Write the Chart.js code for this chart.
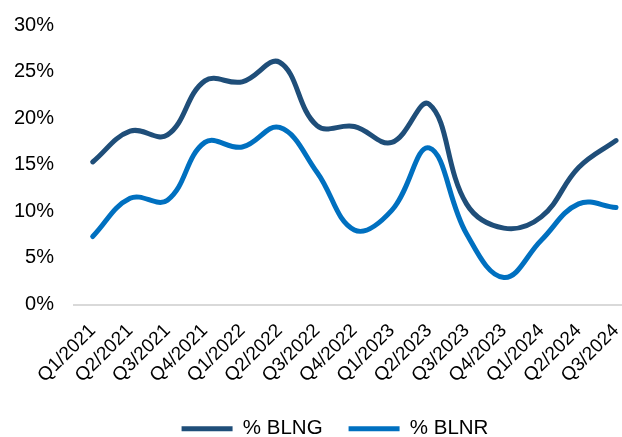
<!DOCTYPE html>
<html>
<head>
<meta charset="utf-8">
<script src="https://cdn.jsdelivr.net/npm/chart.js@4"></script>
<style>
  html, body { margin: 0; padding: 0; background: #fff; }
  #wrap { width: 622px; height: 437px; }
</style>
</head>
<body>
<div id="wrap"><canvas id="myChart"></canvas></div>
<script>
const quarters = ['Q1/2021', 'Q2/2021', 'Q3/2021', 'Q4/2021', 'Q1/2022', 'Q2/2022', 'Q3/2022',
  'Q4/2022', 'Q1/2023', 'Q2/2023', 'Q3/2023', 'Q4/2023', 'Q1/2024', 'Q2/2024', 'Q3/2024'];
const blng = [15.3, 18.6, 18.2, 24.0, 23.9, 26.0, 19.2, 19.1, 17.4, 21.5, 10.8, 8.2, 9.4, 14.7, 17.6];
const blnr = [7.3, 11.4, 11.2, 17.4, 16.9, 19.0, 14.2, 8.0, 10.1, 16.8, 7.6, 2.9, 6.9, 10.8, 10.4];
const yTicks = [0, 5, 10, 15, 20, 25, 30];

const FONT = 'Arial, "Liberation Sans", sans-serif';

// line chart on a linear x scale so the first and last points sit where we want them
const points = vals => vals.map((v, i) => ({ x: i, y: v }));

// legend is centred under the plot rather than the whole canvas
const legendShift = {
    id: 'legendShift',
    afterLayout(chart) {
        chart.legend.left += 48;
    }
};

const ctx = document.getElementById('myChart');
const myChart = new Chart(ctx, {
    type: 'line',
    data: {
        datasets: [
            {
            label: '% BLNG',
            data: points(blng),
            borderColor: '#1F4E79',
            backgroundColor: '#1F4E79',
            borderWidth: 5,
            borderCapStyle: 'round',
            tension: 0.4,
            pointRadius: 0
            },
            {
            label: '% BLNR',
            data: points(blnr),
            borderColor: '#0070C0',
            backgroundColor: '#0070C0',
            borderWidth: 5,
            borderCapStyle: 'round',
            tension: 0.4,
            pointRadius: 0
            }
        ]
    },
    plugins: [legendShift],
    options: {
        responsive: true,
        maintainAspectRatio: false,
        animation: false,
        layout: { padding: { top: 25, right: 0, bottom: -12, left: 0 } },
        plugins: {
            tooltip: { enabled: false },
            legend: {
                position: 'bottom',
                labels: {
                    usePointStyle: true,
                    pointStyle: 'line',
                    pointStyleWidth: 51,
                    padding: 26,
                    color: '#000',
                    font: { family: FONT, size: 20.5 }
                }
            }
        },
        scales: {
            x: {
                type: 'linear',
                min: -0.5,
                max: 14.16,
                afterBuildTicks: axis => { axis.ticks = quarters.map((q, i) => ({ value: i })); },
                afterFit: axis => {
                    axis.height = 88;
                    axis.paddingLeft = 0;
                    axis.paddingRight = 0;
                },
                grid: { display: false },
                border: { display: true, color: '#d9d9d9', width: 2 },
                ticks: {
                    autoSkip: false,
                    maxRotation: 45,
                    minRotation: 45,
                    padding: 7,
                    color: '#000',
                    font: { family: FONT, size: 19 },
                    callback: v => quarters[v]
                }
            },
            y: {
                min: 0,
                max: 30,
                afterBuildTicks: axis => { axis.ticks = yTicks.map(v => ({ value: v })); },
                afterFit: axis => {
                    axis.width = 74;
                    axis.paddingTop = 0;
                    axis.paddingBottom = 0;
                },
                grid: { display: false },
                border: { display: false },
                ticks: {
                    padding: 12,
                    color: '#000',
                    font: { family: FONT, size: 20 },
                    callback: v => v + '%'
                }
            }
        }
    }
});
</script>
</body>
</html>
